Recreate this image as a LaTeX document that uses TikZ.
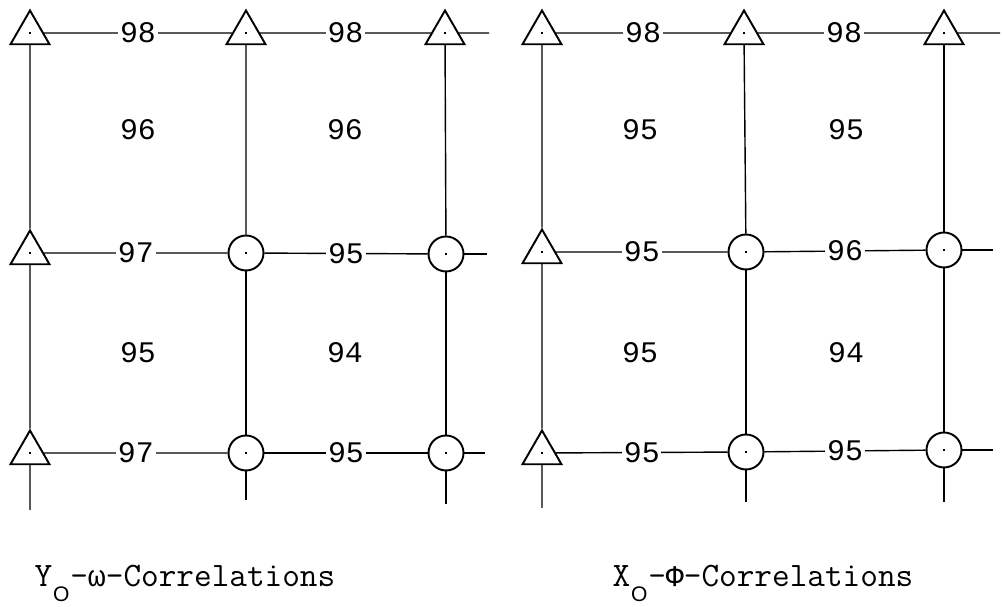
\documentclass[tikz,border=0pt]{standalone}
\usepackage{fontspec}
\setmainfont{Liberation Mono}
\setsansfont{Liberation Sans}
\usetikzlibrary{shapes.geometric}
\newcommand{\ctrdot}{\rule{1.3pt}{1.3pt}}
\newcommand{\subO}{\makebox[0.525em][c]{\raisebox{-8.5pt}{\sffamily\fontsize{12}{14}\selectfont O}}}
\newcommand{\greek}[1]{{\rmfamily\fontsize{17}{20}\selectfont #1}}

\begin{document}
\begin{tikzpicture}[
  x=0.02cm, y=-0.02cm,
  tri/.style={regular polygon, regular polygon sides=3, draw, line width=1.1pt, fill=white, minimum size=0.9cm, inner sep=0pt},
  ring/.style={circle, draw, line width=1.1pt, fill=white, minimum size=0.7cm, inner sep=0pt},
  num/.style={fill=white, inner sep=1pt, font=\fontsize{17}{20}\selectfont},
  caption/.style={anchor=base, inner sep=0pt, font=\ttfamily\fontsize{19.5}{22}\selectfont},
  link/.style={line width=0.8pt}
]
\fill[white] (0,0) rectangle (1002,607);
\useasboundingbox (0,0) rectangle (1002,607);

% Y_O - omega grid
\node[tri] (L11) at (30,33) {\ctrdot};
\node[tri] (L12) at (246,33) {\ctrdot};
\node[tri] (L13) at (445,33) {\ctrdot};
\node[tri] (L21) at (30,253) {\ctrdot};
\node[ring] (L22) at (246,253) {\ctrdot};
\node[ring] (L23) at (446,254) {\ctrdot};
\node[tri] (L31) at (30,453) {\ctrdot};
\node[ring] (L32) at (246,453) {\ctrdot};
\node[ring] (L33) at (446,453) {\ctrdot};
\coordinate (LE1) at (489,33);
\coordinate (LE2) at (487,254);
\coordinate (LE3) at (485,453);
\coordinate (LB1) at (30,510);
\coordinate (LB2) at (246,500);
\coordinate (LB3) at (446,504);

\node[num] (LA) at (138,130) {96};
\node[num] (LB) at (345,130) {96};
\node[num] (LC) at (138,353) {95};
\node[num] (LD) at (345,353) {94};

\draw[link] (L11) -- node[num] (Lh11) {98} (L12);
\draw[link] (L12) -- node[num] (Lh12) {98} (L13);
\draw[link] (L13) -- (LE1);
\draw[link] (L21) -- node[num] (Lh21) {97} (L22);
\draw[link] (L22) -- node[num] (Lh22) {95} (L23);
\draw[link] (L23) -- (LE2);
\draw[link] (L31) -- node[num] (Lh31) {97} (L32);
\draw[link] (L32) -- node[num] (Lh32) {95} (L33);
\draw[link] (L33) -- (LE3);
\draw[link] (L11) -- (L21);
\draw[link] (L21) -- (L31);
\draw[link] (L31) -- (LB1);
\draw[link] (L12) -- (L22);
\draw[link] (L22) -- (L32);
\draw[link] (L32) -- (LB2);
\draw[link] (L13) -- (L23);
\draw[link] (L23) -- (L33);
\draw[link] (L33) -- (LB3);

% X_O - Phi grid
\node[tri] (R11) at (542,33) {\ctrdot};
\node[tri] (R12) at (744,33) {\ctrdot};
\node[tri] (R13) at (944,33) {\ctrdot};
\node[tri] (R21) at (542,252) {\ctrdot};
\node[ring] (R22) at (746,252) {\ctrdot};
\node[ring] (R23) at (944,250) {\ctrdot};
\node[tri] (R31) at (542,453) {\ctrdot};
\node[ring] (R32) at (746,452) {\ctrdot};
\node[ring] (R33) at (944,450) {\ctrdot};
\coordinate (RE1) at (1000,33);
\coordinate (RE2) at (993,250);
\coordinate (RE3) at (993,450);
\coordinate (RB1) at (542,508);
\coordinate (RB2) at (746,502);
\coordinate (RB3) at (944,502);

\node[num] (RA) at (640,130) {95};
\node[num] (RB) at (846,130) {95};
\node[num] (RC) at (640,353) {95};
\node[num] (RD) at (846,353) {94};

\draw[link] (R11) -- node[num] (Rh11) {98} (R12);
\draw[link] (R12) -- node[num] (Rh12) {98} (R13);
\draw[link] (R13) -- (RE1);
\draw[link] (R21) -- node[num] (Rh21) {95} (R22);
\draw[link] (R22) -- node[num] (Rh22) {96} (R23);
\draw[link] (R23) -- (RE2);
\draw[link] (R31) -- node[num] (Rh31) {95} (R32);
\draw[link] (R32) -- node[num] (Rh32) {95} (R33);
\draw[link] (R33) -- (RE3);
\draw[link] (R11) -- (R21);
\draw[link] (R21) -- (R31);
\draw[link] (R31) -- (RB1);
\draw[link] (R12) -- (R22);
\draw[link] (R22) -- (R32);
\draw[link] (R32) -- (RB2);
\draw[link] (R13) -- (R23);
\draw[link] (R23) -- (R33);
\draw[link] (R33) -- (RB3);

\node[caption] (capY) at (185,587) {Y\subO-\greek{ω}-Correlations};
\node[caption] (capX) at (763,587) {X\subO-\greek{Φ}-Correlations};
\end{tikzpicture}
\end{document}
